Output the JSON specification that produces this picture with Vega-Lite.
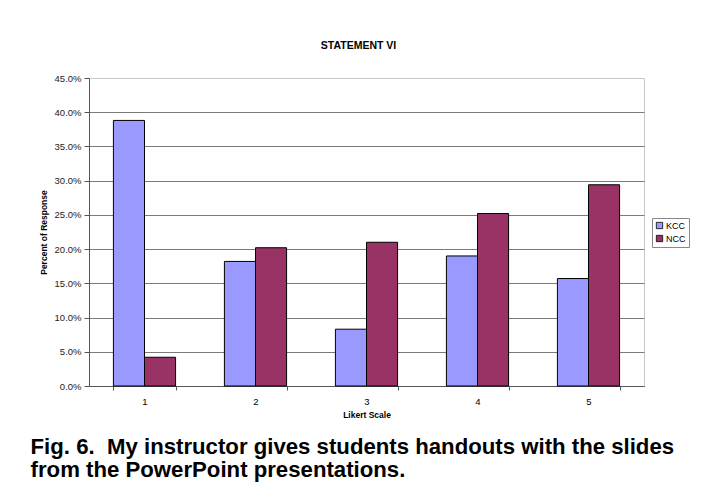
{
  "$schema": "https://vega.github.io/schema/vega-lite/v6.json",
  "background": "white",
  "padding": {"left": 30, "top": 40, "right": 5, "bottom": 2},
  "config": {
    "font": "Liberation Sans",
    "view": {"stroke": "#c8c8c8", "strokeWidth": 1}
  },
  "title": {
    "text": [
      "Fig. 6.\u00a0 My instructor gives students handouts with the slides",
      "from the PowerPoint presentations."
    ],
    "orient": "bottom",
    "anchor": "start",
    "frame": "bounds",
    "font": "Liberation Sans",
    "fontSize": 22.2,
    "fontWeight": "bold",
    "lineHeight": 23,
    "color": "black",
    "offset": 16,
    "dx": -8
  },
  "vconcat": [
    {
      "width": 555,
      "height": 308,
      "title": {
        "text": "STATEMENT VI",
        "anchor": "middle",
        "frame": "group",
        "fontSize": 10.5,
        "fontWeight": "bold",
        "color": "black",
        "offset": 22,
        "dx": -8
      },
      "data": {
        "values": [
          {"scale": "1", "college": "KCC", "pct": 0.388},
          {"scale": "1", "college": "NCC", "pct": 0.042},
          {"scale": "2", "college": "KCC", "pct": 0.182},
          {"scale": "2", "college": "NCC", "pct": 0.202},
          {"scale": "3", "college": "KCC", "pct": 0.083},
          {"scale": "3", "college": "NCC", "pct": 0.210},
          {"scale": "4", "college": "KCC", "pct": 0.190},
          {"scale": "4", "college": "NCC", "pct": 0.252},
          {"scale": "5", "college": "KCC", "pct": 0.157},
          {"scale": "5", "college": "NCC", "pct": 0.294}
        ]
      },
      "mark": {"type": "bar", "stroke": "black", "strokeWidth": 1},
      "encoding": {
        "x": {
          "field": "scale",
          "type": "nominal",
          "scale": {"paddingInner": 0.44, "paddingOuter": 0.22},
          "axis": {
            "title": "Likert Scale",
            "titleFontSize": 8.5,
            "titleFontWeight": "bold",
            "titleColor": "black",
            "titlePadding": 5,
            "labelAngle": 0,
            "labelFontSize": 9.5,
            "labelColor": "black",
            "labelPadding": 6,
            "tickBand": "extent",
            "tickSize": 4,
            "tickColor": "#555",
            "domainColor": "#555",
            "grid": false
          }
        },
        "xOffset": {
          "field": "college",
          "type": "nominal",
          "scale": {"paddingInner": 0, "paddingOuter": 0}
        },
        "y": {
          "field": "pct",
          "type": "quantitative",
          "scale": {"domain": [0, 0.45]},
          "axis": {
            "title": "Percent of Response",
            "titleFontSize": 8.5,
            "titleFontWeight": "bold",
            "titleColor": "black",
            "titlePadding": 6,
            "format": ".1%",
            "values": [0, 0.05, 0.1, 0.15, 0.2, 0.25, 0.3, 0.35, 0.4, 0.45],
            "labelFontSize": 9.5,
            "labelColor": "#222",
            "labelPadding": 3,
            "tickSize": 5,
            "tickColor": "#555",
            "domainColor": "#555",
            "grid": true,
            "gridColor": {
              "condition": {"test": "datum.value >= 0.45", "value": "#c8c8c8"},
              "value": "#7a7a7a"
            }
          }
        },
        "color": {
          "field": "college",
          "type": "nominal",
          "scale": {"domain": ["KCC", "NCC"], "range": ["#9999FF", "#993366"]},
          "legend": {
            "title": null,
            "orient": "none",
            "legendX": 563,
            "legendY": 140,
            "strokeColor": "#888",
            "padding": 3,
            "symbolType": "square",
            "symbolSize": 40,
            "symbolStrokeColor": "black",
            "symbolStrokeWidth": 0.8,
            "labelFontSize": 9,
            "labelColor": "black",
            "labelOffset": 2,
            "rowPadding": 2
          }
        }
      }
    }
  ]
}
